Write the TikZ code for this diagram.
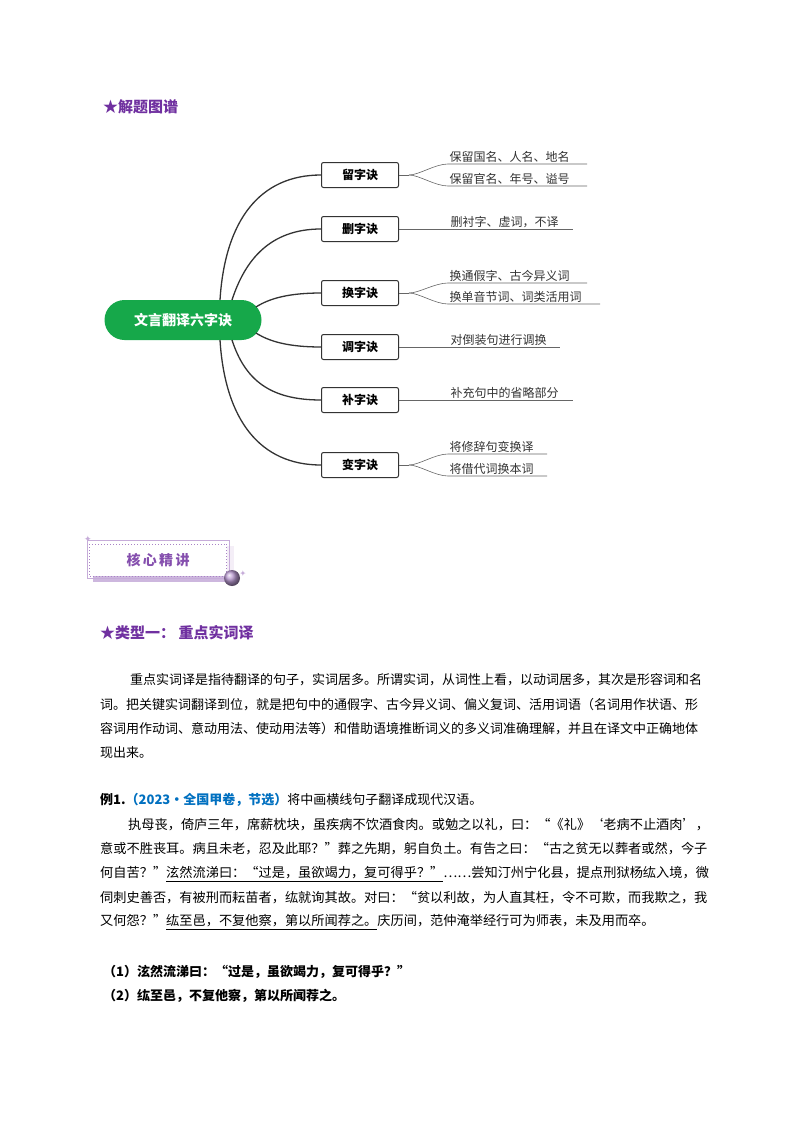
\documentclass[tikz,border=0pt]{standalone}
\usepackage{fontspec}
\setmainfont{Noto Sans CJK SC}
\newfontfamily\djv{DejaVu Sans}
\usetikzlibrary{calc}
\definecolor{pur}{RGB}{112,48,160}
\definecolor{gr}{RGB}{22,168,74}
\definecolor{blu}{RGB}{0,112,192}
\begin{document}
\begin{tikzpicture}[x=1pt,y=-1pt,
 box/.style={draw=black!80,line width=1pt,rounded corners=2pt,minimum width=77pt,minimum height=25pt,font=\fontsize{12}{12}\selectfont\bfseries},
 leaf/.style={anchor=south west,inner sep=1.5pt,font=\fontsize{12}{12}\selectfont,text=black!80},
 br/.style={line width=1.3pt,black!80},
 lf/.style={line width=0.6pt,black!60},
 tx/.style={anchor=west,inner sep=0pt,font=\fontsize{13}{13}\selectfont},
 hd/.style={anchor=west,inner sep=0pt,font=\fontsize{15}{15}\selectfont\bfseries,text=pur}]
\useasboundingbox (0,0) rectangle (800,1132);
\fill[white] (0,0) rectangle (800,1132);
\node[hd] (t1) at (103,107) {★解题图谱};
% central
\node[fill=gr,rounded corners=20pt,minimum width=157pt,minimum height=40pt,text=white,font=\fontsize{14}{14}\selectfont\bfseries] (c) at (183,320) {文言翻译六字诀};
\foreach \n/\t/\y in {a/留字诀/175,b/删字诀/229,d/换字诀/293,e/调字诀/347,f/补字诀/400,g/变字诀/465}{
 \node[box] (\n) at (360,\y) {\t};
}
\draw[br] (220,300) .. controls (225,220) and (260,175) .. (a.west);
\draw[br] (232,300) .. controls (245,260) and (270,229) .. (b.west);
\draw[br] (256,307) .. controls (270,298) and (290,293) .. (d.west);
\draw[br] (256,333) .. controls (270,342) and (290,347) .. (e.west);
\draw[br] (232,340) .. controls (245,380) and (270,400) .. (f.west);
\draw[br] (220,340) .. controls (225,420) and (260,465) .. (g.west);
% leaves
\foreach \n/\ya/\yb/\xa/\xb/\ta/\tb in {a/164/186/587/587/保留国名、人名、地名/保留官名、年号、谥号, d/283/304/587/600/换通假字、古今异义词/换单音节词、词类活用词, g/454/476/547/547/将修辞句变换译/将借代词换本词}{
 \draw[lf] (\n.east) -- ++(10,0) coordinate (\n0);
 \draw[lf] (\n0) .. controls ($(\n0)+(10,0)$) and (435,\ya) .. (448,\ya) -- (\xa,\ya);
 \draw[lf] (\n0) .. controls ($(\n0)+(10,0)$) and (435,\yb) .. (448,\yb) -- (\xb,\yb);
 \node[leaf] (\n1) at (448,\ya) {\ta};
 \node[leaf] (\n2) at (448,\yb) {\tb};
}
\foreach \n/\x/\t in {b/573/删衬字、虚词，不译, e/560/对倒装句进行调换, f/573/补充句中的省略部分}{
 \draw[lf] (\n.east) -- (\n.east -| \x,0);
 \node[leaf] (\n1) at ($(\n.east)+(50,0)$) {\t};
}
% header box
\fill[pur!8] (93,546) rectangle (234,582);
\fill[pur!35] (93,574) rectangle (234,582);
\node[draw=pur!60,dotted,line width=1pt,fill=white,minimum width=137pt,minimum height=32pt,text=pur!85,font=\fontsize{14}{14}\selectfont\bfseries] (h) at (158,560) {核\,心\,精\,讲};
\draw[pur!40,line width=1pt] (87,540) rectangle (229,578);
\shade[ball color=pur!50] (232,578) circle (8);
\node[text=pur!40,font=\djv\fontsize{9}{9}\selectfont] (s1) at (88,539) {✦};
\node[text=pur!40,font=\djv\fontsize{8}{8}\selectfont] (s2) at (243,574) {✦};
\node[hd] (t2) at (100,633) {★类型一：\ 重点实词译};
% paragraph
\node[tx] (p1) at (130,680) {重点实词译是指待翻译的句子，实词居多。所谓实词，从词性上看，以动词居多，其次是形容词和名};
\node[tx] (p2) at (100,705) {词。把关键实词翻译到位，就是把句中的通假字、古今异义词、偏义复词、活用词语（名词用作状语、形};
\node[tx] (p3) at (100,729) {容词用作动词、意动用法、使动用法等）和借助语境推断词义的多义词准确理解，并且在译文中正确地体};
\node[tx] (p4) at (100,753) {现出来。};
\node[tx,font=\fontsize{13}{13}\selectfont] (e0) at (100,800) {\textbf{例1.}{\color{blu}\bfseries（2023·全国甲卷，节选）}将中画横线句子翻译成现代汉语。};
\node[tx,font=\fontsize{13.2}{13}\selectfont] (q1) at (128,825) {执母丧，倚庐三年，席薪枕块，虽疾病不饮酒食肉。或勉之以礼，曰：“《礼》‘老病不止酒肉’，};
\node[tx,font=\fontsize{13.2}{13}\selectfont] (q2) at (100,849) {意或不胜丧耳。病且未老，忍及此耶？”葬之先期，躬自负土。有告之曰：“古之贫无以葬者或然，今子};
\node[tx,font=\fontsize{13.2}{13}\selectfont] (q3) at (100,874) {何自苦？”\underline{泫然流涕曰：“过是，虽欲竭力，复可得乎？”}……尝知汀州宁化县，提点刑狱杨纮入境，微};
\node[tx,font=\fontsize{13.2}{13}\selectfont] (q4) at (100,898) {伺刺史善否，有被刑而耘苗者，纮就询其故。对曰：“贫以利故，为人直其枉，令不可欺，而我欺之，我};
\node[tx,font=\fontsize{13.2}{13}\selectfont] (q5) at (100,922) {又何怨？”\underline{纮至邑，不复他察，第以所闻荐之。}庆历间，范仲淹举经行可为师表，未及用而卒。};
\node[tx,font=\fontsize{13}{13}\selectfont\bfseries] (r1) at (103,972) {（1）泫然流涕曰：“过是，虽欲竭力，复可得乎？”};
\node[tx,font=\fontsize{13}{13}\selectfont\bfseries] (r2) at (103,996) {（2）纮至邑，不复他察，第以所闻荐之。};
\end{tikzpicture}
\end{document}
